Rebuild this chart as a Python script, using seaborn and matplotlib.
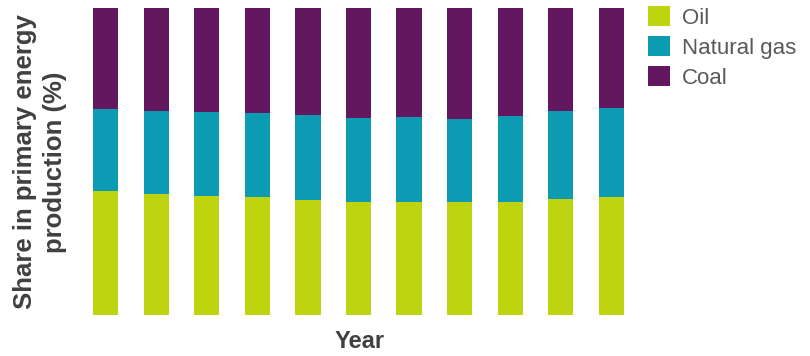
import matplotlib
matplotlib.use("Agg")
import matplotlib.pyplot as plt
import seaborn as sns
import pandas as pd
from matplotlib.patches import Patch

# Share of primary energy production by source (%), one bar per year
periods = [str(i) for i in range(1, 12)]
oil = [40.4, 39.3, 38.7, 38.4, 37.5, 36.7, 37.0, 36.7, 37.0, 37.9, 38.4]
natural_gas = [26.8, 27.1, 27.5, 27.3, 27.8, 27.4, 27.5, 27.3, 27.9, 28.6, 29.0]
coal = [32.8, 33.6, 33.8, 34.3, 34.7, 35.9, 35.5, 36.0, 35.1, 33.5, 32.6]

series_names = ["Oil", "Natural gas", "Coal"]
series_colors = ["#bdd40f", "#0c9bb3", "#62175f"]

sns.set_theme(style="white")
plt.rcParams["font.family"] = ["Liberation Sans", "DejaVu Sans"]

df = pd.DataFrame({"period": periods, "Oil": oil, "Natural gas": natural_gas, "Coal": coal})

fig = plt.figure(figsize=(8.1, 3.56), dpi=100)
ax = fig.add_axes([0.0993, 0.115, 0.6866, 0.862])

bottom = [0.0] * len(periods)
for name, color in zip(series_names, series_colors):
    sns.barplot(data=df, x="period", y=name, color=color, width=0.5,
                bottom=bottom, ax=ax, saturation=1, linewidth=0)
    bottom = [b + v for b, v in zip(bottom, df[name])]

ax.set_xlim(-0.5, len(periods) - 0.5)
ax.set_ylim(0, 100)
ax.set_xticks([])
ax.set_yticks([])
ax.set_xlabel("")
ax.set_ylabel("")
for spine in ax.spines.values():
    spine.set_visible(False)

text_color = "#404040"
fig.text(40 / 810, 1 - 162 / 356, "Share in primary energy\nproduction (%)",
         rotation=90, ha="center", va="center", multialignment="center",
         fontsize=18.5, fontweight="bold", color=text_color, linespacing=1.3)
fig.text(360 / 810, 1 - 341 / 356, "Year", ha="center", va="center",
         fontsize=17, fontweight="bold", color=text_color)

handles = [Patch(facecolor=c, edgecolor="none", label=n)
           for n, c in zip(series_names, series_colors)]
leg = fig.legend(handles=handles, loc="upper left",
                 bbox_to_anchor=(644 / 810, 1 - 2 / 356),
                 frameon=False, fontsize=16, handlelength=0.95,
                 handleheight=0.95, handletextpad=0.55, labelspacing=0.35,
                 borderaxespad=0, borderpad=0.2)
for t in leg.get_texts():
    t.set_color("#595959")

fig.savefig("out.png", dpi=100)
